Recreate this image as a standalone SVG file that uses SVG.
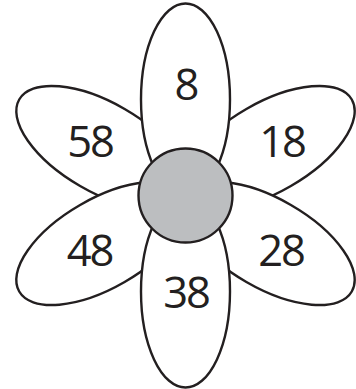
<svg xmlns="http://www.w3.org/2000/svg" width="356" height="389" viewBox="0 0 356 389">
<style>
.petal{fill:#fff;stroke:#231f20;stroke-width:2.4}
.core{fill:#bcbec0;stroke:#231f20;stroke-width:2.4}
.lbl{font-family:"Open Sans","Liberation Sans",sans-serif;font-size:43.5px;fill:#231f20;text-anchor:middle;letter-spacing:-2px}
</style>
<defs>
<ellipse id="pet" cx="185.5" cy="99.5" rx="44.5" ry="96"/>
</defs>
<g id="petal-58"><use href="#pet" class="petal" transform="rotate(-60 185.5 195.5)"/></g>
<g id="petal-48"><use href="#pet" class="petal" transform="rotate(-120 185.5 195.5)"/></g>
<g id="petal-18"><use href="#pet" class="petal" transform="rotate(60 185.5 195.5)"/></g>
<g id="petal-28"><use href="#pet" class="petal" transform="rotate(120 185.5 195.5)"/></g>
<g id="petal-8"><use href="#pet" class="petal"/></g>
<g id="petal-38"><use href="#pet" class="petal" transform="rotate(180 185.5 195.5)"/></g>
<g id="center"><circle class="core" cx="185.5" cy="195.5" r="47"/></g>
<g id="labels">
<text class="lbl" x="186" y="99.5">8</text>
<text class="lbl" x="90" y="156.7">58</text>
<text class="lbl" x="282" y="156.7">18</text>
<text class="lbl" x="89.5" y="265.7">48</text>
<text class="lbl" x="281" y="265.7">28</text>
<text class="lbl" x="186" y="307.7">38</text>
</g>
<g id="connectors"/>
</svg>
